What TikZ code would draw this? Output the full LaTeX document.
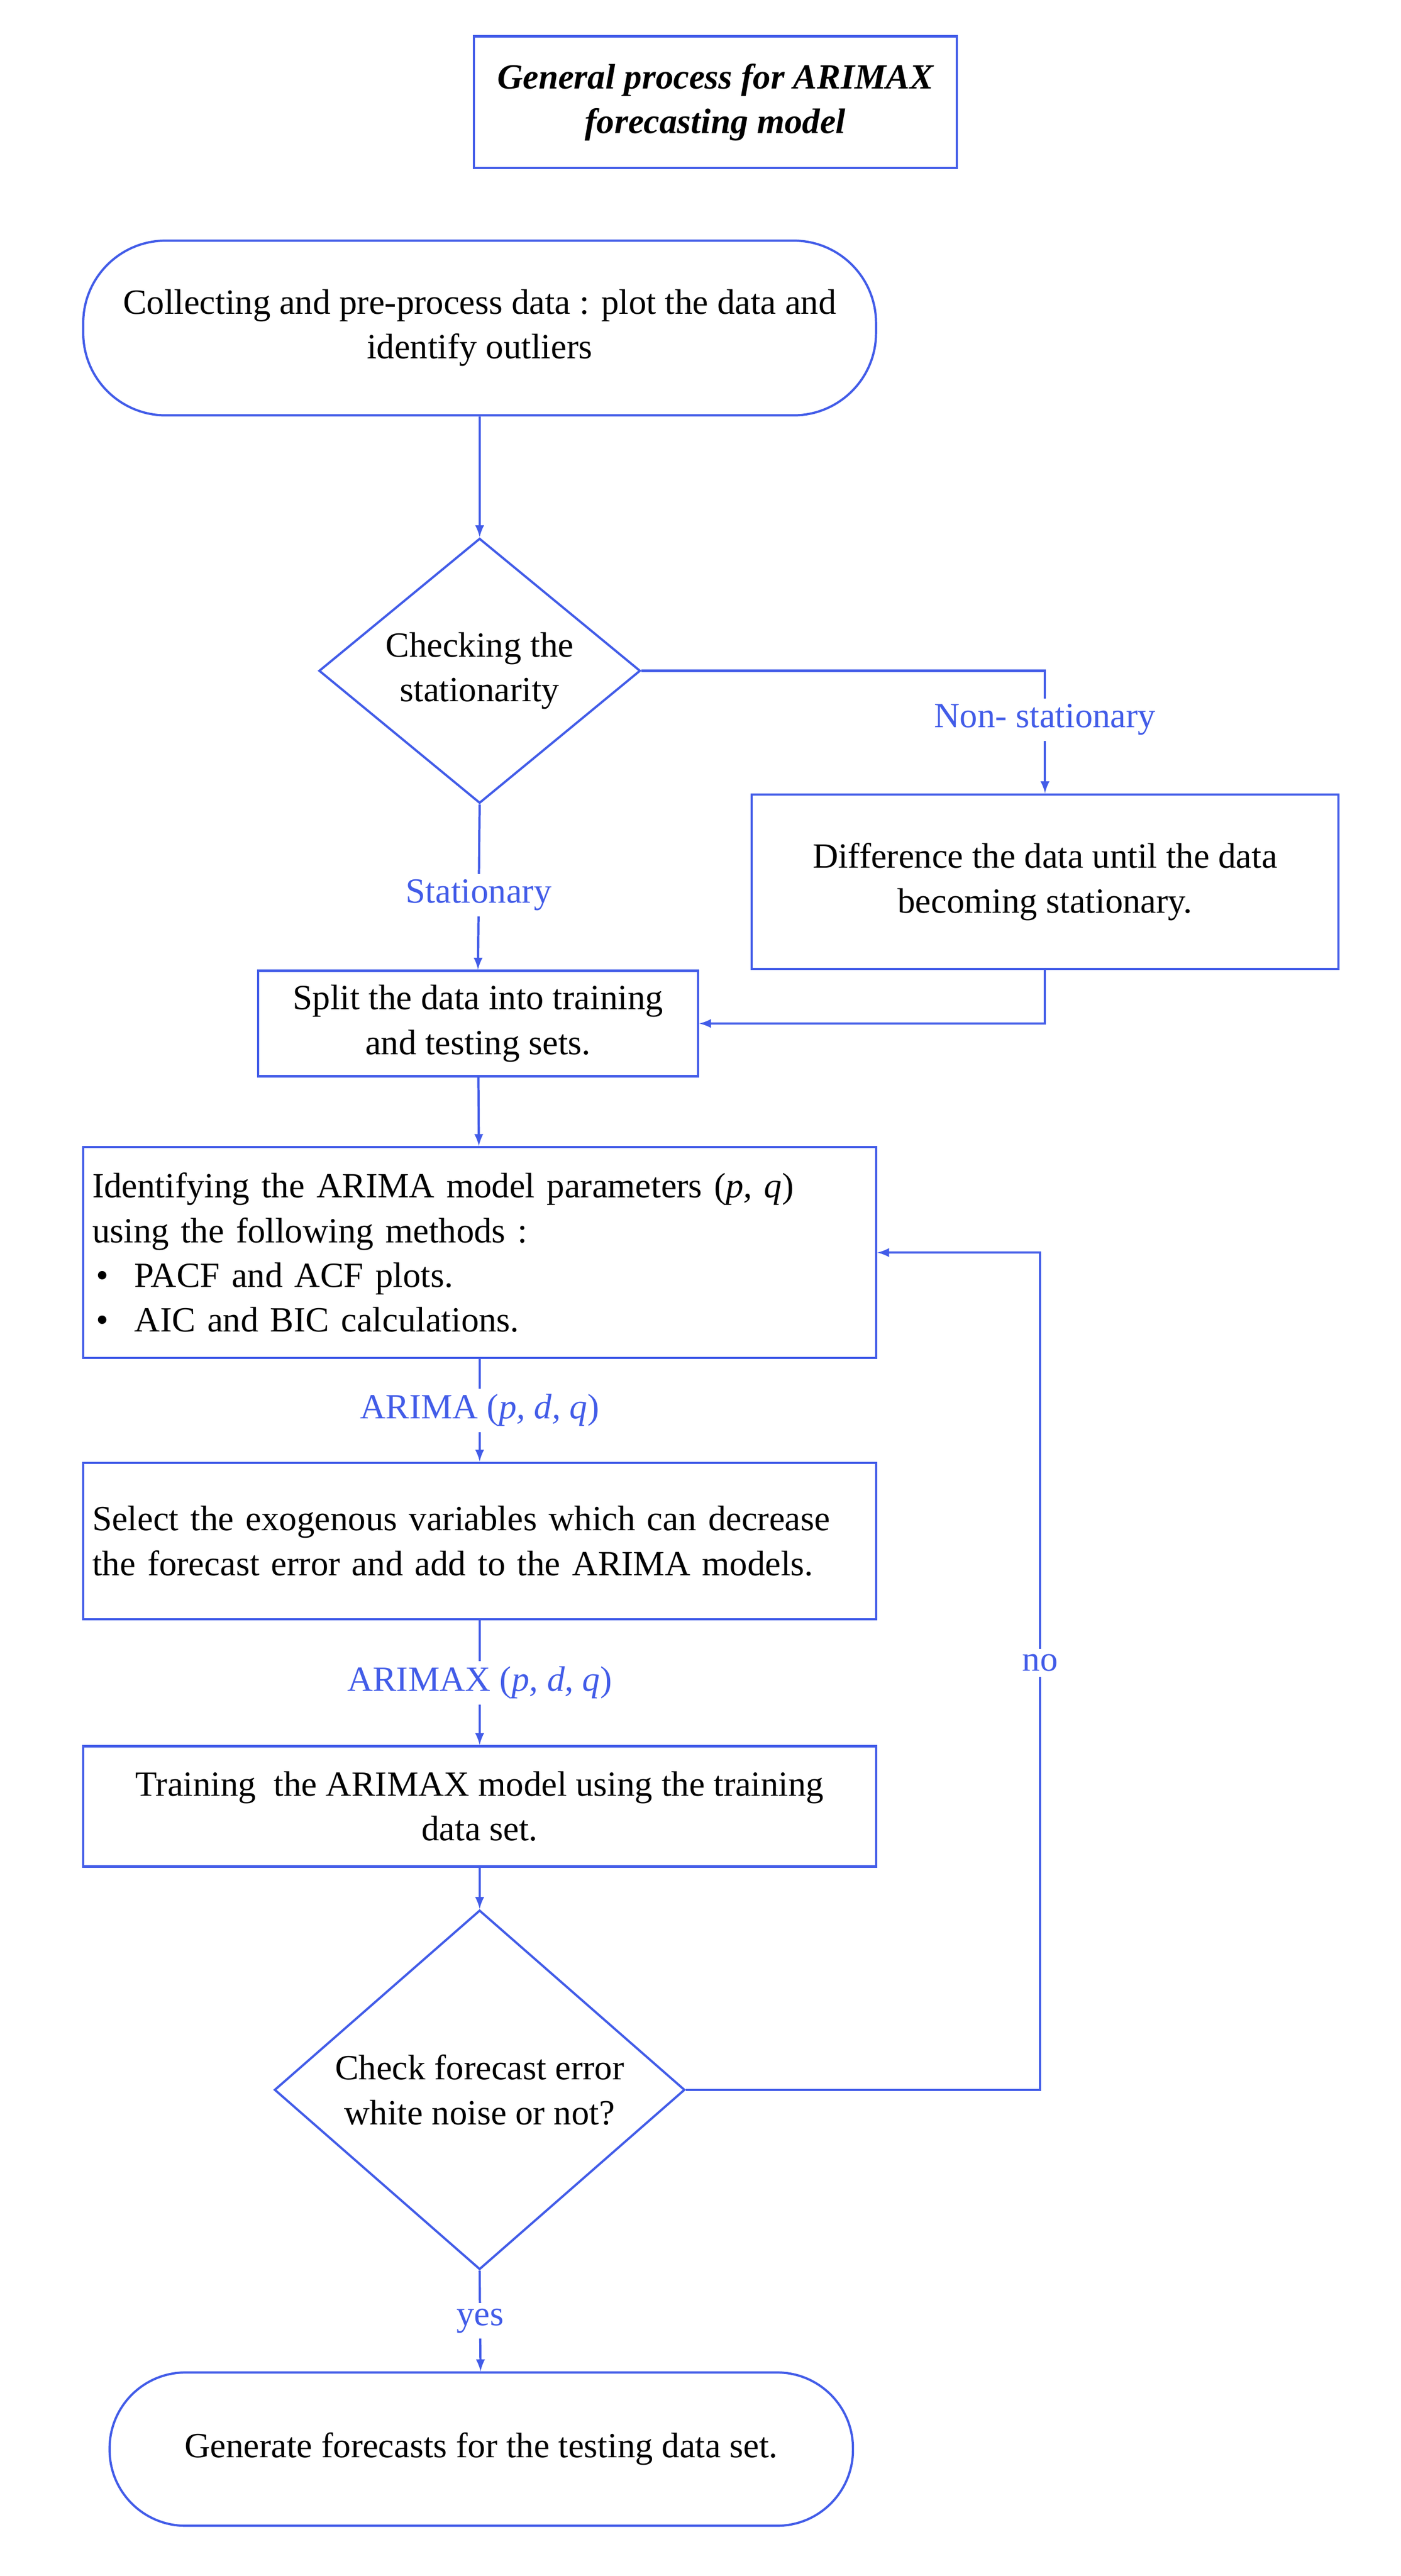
\documentclass[tikz,border=0pt]{standalone}
\usepackage{fontspec}
\setmainfont{Liberation Serif}
\usetikzlibrary{shapes.geometric,positioning}
\definecolor{flowblue}{RGB}{66,92,232}
\begin{document}
\def\u{0.03107cm}
\begin{tikzpicture}[x=\u,y=-\u,
    every node/.style={font=\fontsize{19}{24}\selectfont},
    box/.style={draw=flowblue,line width=1.2pt,align=center,inner sep=2pt},
    term/.style={box,rounded corners=50*\u},
    dec/.style={draw=flowblue,line width=1.2pt,diamond,align=center,inner sep=0pt},
    lab/.style={text=flowblue,fill=white,inner sep=3pt},
    flow/.style={draw=flowblue,line width=1.2pt,-latex}]
  \useasboundingbox (0,0) rectangle (850,1563);
  \node[box,minimum width=293*\u,minimum height=80*\u,font=\fontsize{19}{24}\selectfont\bfseries\itshape] (title) at (434,62) {General process for ARIMAX\\forecasting model};
  \node[term,minimum width=481*\u,minimum height=106*\u] (collect) at (291,199) {Collecting and pre-process data : plot the data and\\identify outliers};
  \node[dec,minimum width=195*\u,minimum height=150*\u] (stat) at (291,407) {Checking the\\stationarity};
  \node[box,minimum width=356*\u,minimum height=106*\u] (diff) at (634,535) {Difference the data until the data\\becoming stationary.};
  \node[box,minimum width=267*\u,minimum height=64*\u] (split) at (290,621) {Split the data into training\\and testing sets.};
  \node[box,minimum width=481*\u,minimum height=128*\u,text width=470*\u,align=left] (ident) at (291,760) {Identifying the ARIMA model parameters (\textit{p, q})\\using the following methods :\\\hspace*{2pt}\textbullet\hspace{14pt}PACF and ACF plots.\\\hspace*{2pt}\textbullet\hspace{14pt}AIC and BIC calculations.};
  \node[box,minimum width=481*\u,minimum height=95*\u,text width=470*\u,align=left] (select) at (291,935) {Select the exogenous variables which can decrease\\the forecast error and add to the ARIMA models.};
  \node[box,minimum width=481*\u,minimum height=73*\u] (train) at (291,1096) {Training\ \ the ARIMAX model using the training\\data set.};
  \node[dec,minimum width=249*\u,minimum height=191*\u] (check) at (291,1268) {Check forecast error\\white noise or not?};
  \node[term,minimum width=451*\u,minimum height=93*\u,rounded corners=46*\u] (gen) at (292,1486) {Generate forecasts for the testing data set.};
  \coordinate (nsc) at (634,407);
  \coordinate (dfc) at (634,621);
  \coordinate (nob) at (631,1268);
  \coordinate (not) at (631,760);
  % connectors
  \draw[flow] (collect) -- (stat);
  \draw[flow] (stat.south) -- node[lab,pos=0.55]{Stationary} (split.north);
  \draw[flow] (stat.east) -- (nsc) -- node[lab,pos=0.4]{Non- stationary} (diff.north);
  \draw[flow] (diff.south) -- (dfc) -- (split.east);
  \draw[flow] (split) -- (ident);
  \draw[flow] (ident) -- node[lab]{ARIMA (\textit{p, d, q})} (select);
  \draw[flow] (select) -- node[lab]{ARIMAX (\textit{p, d, q})} (train);
  \draw[flow] (train) -- (check.north);
  \draw[flow] (check.south) -- node[lab]{yes} (gen);
  \draw[flow] (check.east) -- (nob) -- node[lab,pos=0.51]{no} (not) -- (ident.east);
\end{tikzpicture}
\end{document}
